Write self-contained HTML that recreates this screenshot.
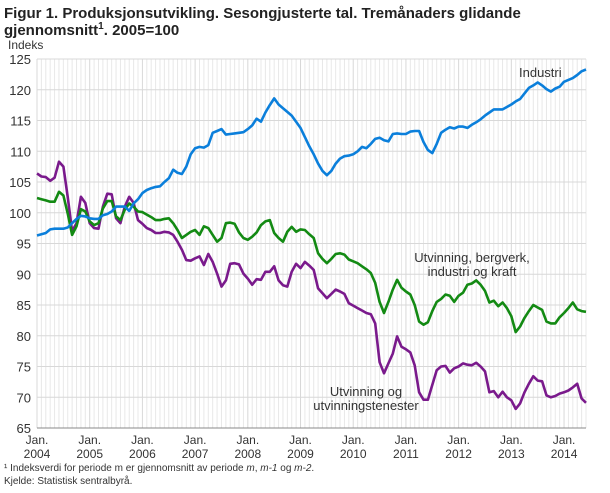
<!DOCTYPE html>
<html><head><meta charset="utf-8"><style>
body{margin:0;background:#fff;font-family:"Liberation Sans",sans-serif;}
svg text{font-family:"Liberation Sans",sans-serif;}
</style></head><body>
<svg id="chart" width="610" height="488" xmlns="http://www.w3.org/2000/svg">
<text x="4" y="18" font-size="15" font-weight="bold" fill="#222">Figur 1. Produksjonsutvikling. Sesongjusterte tal. Tremånaders glidande</text>
<text x="4" y="35" font-size="15" font-weight="bold" fill="#222">gjennomsnitt<tspan font-size="10" dy="-6">1</tspan><tspan dy="6">. 2005=100</tspan></text>
<text x="8" y="49" font-size="12" fill="#333">Indeks</text>
<g id="grid"></g><g id="axes"></g><g id="series"></g>
<text x="519" y="77" font-size="13" fill="#333">Industri</text>
<text x="472" y="262" font-size="13" fill="#333" text-anchor="middle">Utvinning, bergverk,</text>
<text x="472" y="276" font-size="13" fill="#333" text-anchor="middle">industri og kraft</text>
<text x="366" y="396" font-size="13" fill="#333" text-anchor="middle">Utvinning og</text>
<text x="366" y="410" font-size="13" fill="#333" text-anchor="middle">utvinningstenester</text>
<text x="4" y="471" font-size="10" fill="#333">¹ Indeksverdi for periode m er gjennomsnitt av periode <tspan font-style="italic">m</tspan>, <tspan font-style="italic">m-1</tspan> og <tspan font-style="italic">m-2</tspan>.</text>
<text x="4" y="484" font-size="10" fill="#333">Kjelde: Statistisk sentralbyrå.</text>
</svg>
<script>
const years=["2004","2005","2006","2007","2008","2009","2010","2011","2012","2013","2014"];
const yTicks=[65,70,75,80,85,90,95,100,105,110,115,120,125];
const industri=[96.3,96.5,96.7,97.3,97.4,97.4,97.4,97.6,98.3,99.0,
99.5,99.4,99.1,99.0,99.0,99.6,99.8,100.2,101.0,101.0,
101.0,100.3,101.5,102.2,103.2,103.7,104.0,104.2,104.3,105.0,
105.6,107.0,106.5,106.3,107.5,109.5,110.5,110.7,110.6,111.0,
113.0,113.3,113.6,112.7,112.8,112.9,113.0,113.1,113.6,114.2,
115.3,114.8,116.3,117.5,118.6,117.6,117.0,116.4,115.8,114.8,
113.8,112.3,110.8,109.5,108.0,106.8,106.1,106.8,108.0,108.8,
109.2,109.3,109.5,110.0,110.7,110.5,111.2,112.0,112.2,111.8,
111.6,112.8,112.9,112.8,112.8,113.2,113.3,113.3,111.5,110.2,
109.7,111.2,113.0,113.5,113.9,113.7,114.0,114.0,113.8,114.3,
114.7,115.2,115.8,116.3,116.8,116.8,116.8,117.2,117.6,118.1,
118.5,119.4,120.3,120.7,121.2,120.7,120.1,119.7,120.2,120.5,
121.3,121.6,121.9,122.4,123.0,123.3];
const totalt=[102.4,102.2,102.0,101.8,101.8,103.4,102.8,99.9,96.4,97.8,
100.6,100.2,98.6,98.0,98.3,100.7,101.9,101.9,99.4,98.8,
100.5,101.5,101.0,100.2,100.1,99.7,99.3,98.8,98.8,99.0,
99.1,98.3,97.2,95.9,96.4,96.9,97.2,96.4,97.8,97.5,
96.4,95.3,95.9,98.3,98.4,98.2,96.8,95.9,95.6,96.1,
96.8,98.0,98.6,98.8,96.7,95.9,95.3,96.9,97.7,96.9,
97.3,97.2,96.5,95.9,93.4,92.5,91.8,92.5,93.3,93.4,
93.2,92.4,92.1,91.8,91.3,90.8,90.2,88.6,85.5,83.7,
85.5,87.5,89.1,87.8,87.2,86.7,85.0,82.3,81.8,82.2,
84.0,85.5,86.0,86.7,86.5,85.5,86.5,87.0,88.3,88.5,
89.0,88.3,87.3,85.4,85.7,84.8,85.4,84.5,83.2,80.6,
81.5,82.9,84.0,85.0,84.6,84.2,82.3,82.0,82.0,83.0,
83.7,84.5,85.4,84.3,84.0,83.9];
const utvinning=[106.4,105.9,105.8,105.2,105.7,108.3,107.5,102.6,97.0,98.3,
102.6,101.6,98.3,97.5,97.4,101.0,103.1,103.0,99.1,98.3,
101.0,102.6,101.6,98.8,98.2,97.5,97.2,96.7,96.7,96.9,
96.8,96.4,95.3,94.0,92.3,92.2,92.6,92.9,91.5,93.3,
92.0,90.1,88.0,89.0,91.7,91.8,91.6,90.1,89.3,88.3,
89.2,89.1,90.4,90.4,91.3,89.0,88.2,88.0,90.4,91.7,
91.0,92.0,91.4,90.7,87.7,86.9,86.1,86.8,87.5,87.2,
86.8,85.3,84.9,84.5,84.1,83.7,83.5,82.0,75.7,73.9,
75.5,77.1,79.9,78.2,77.8,77.3,75.2,70.8,69.6,69.6,
72.0,74.4,75.0,75.1,74.0,74.7,75.0,75.5,75.3,75.2,
75.6,75.0,74.2,70.8,71.0,70.0,70.9,70.0,69.5,68.1,
69.0,70.8,72.2,73.4,72.7,72.6,70.3,70.0,70.2,70.6,
70.8,71.1,71.6,72.2,69.8,69.1];

const NS="http://www.w3.org/2000/svg";
const L=37,R=586,T=59,B=428,yMin=65,yMax=125,nM=126;
const xS=m=>L+m*(R-L)/(nM-1);
const yS=v=>B-(v-yMin)*(B-T)/(yMax-yMin);
function mk(tag,attrs,parent){const e=document.createElementNS(NS,tag);for(const k in attrs)e.setAttribute(k,attrs[k]);parent.appendChild(e);return e;}
const grid=document.getElementById('grid'),axes=document.getElementById('axes'),ser=document.getElementById('series');
for(let m=0;m<nM;m++){
  const l=mk('line',{x1:xS(m),x2:xS(m),y1:T,y2:B,stroke:m%12===0?'#d8d8d8':'#e8e8e8','stroke-width':1},grid);
  
  
}
yTicks.forEach(v=>{
  const l=mk('line',{x1:L,x2:R,y1:yS(v),y2:yS(v),stroke:'#d8d8d8','stroke-width':1},grid);
  
  
  const t=mk('text',{x:31,y:yS(v)+5,'font-size':13,fill:'#333','text-anchor':'end'},axes);
  t.textContent=v;
  
  
});
const ax=mk('line',{x1:L,x2:R,y1:B,y2:B,stroke:'#888','stroke-width':1},axes);


years.forEach((y,i)=>{
  const x=xS(i*12);
  const t1=mk('text',{x:x,y:444,'font-size':12,fill:'#333','text-anchor':'middle'},axes);
  t1.textContent='Jan.';
  
  
  const t2=mk('text',{x:x,y:458,'font-size':12,fill:'#333','text-anchor':'middle'},axes);
  t2.textContent=y;
  
  
});
function line(data,color,name){
  const p=mk('polyline',{points:data.map((v,i)=>xS(i).toFixed(1)+','+yS(v).toFixed(1)).join(' '),fill:'none',stroke:color,'stroke-width':2.6,'stroke-linejoin':'round'},ser);
  
  
}
line(utvinning,'#7a1a8c','line-utvinning');
line(totalt,'#138a13','line-utvinning-bergverk');
line(industri,'#0b7fdb','line-industri');
</script>
</body></html>
